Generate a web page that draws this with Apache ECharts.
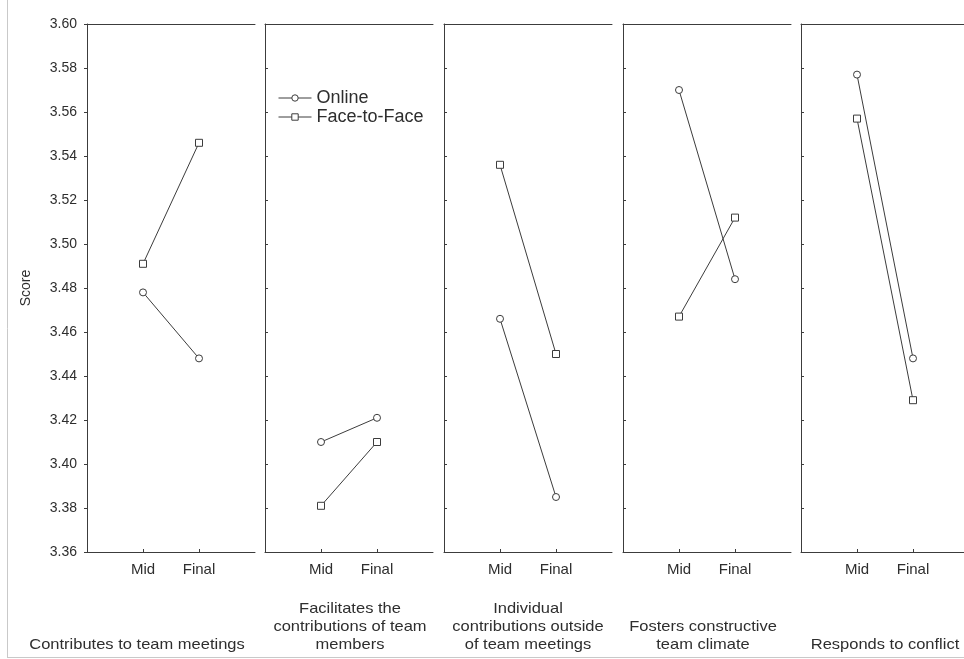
<!DOCTYPE html>
<html>
<head>
<meta charset="utf-8">
<script src="https://cdn.jsdelivr.net/npm/echarts@6/dist/echarts.min.js"></script>
<style>
  html, body { margin: 0; padding: 0; background: #fff; overflow: hidden; }
  /* drawing surface runs a little past the window so the last panel is cut at the edge */
  #chart { width: 975px; height: 659px; }
</style>
</head>
<body>
<div id="chart"></div>
<script>
// Item titles, one per panel
const itemTitles = [
  'Contributes to team meetings',
  'Facilitates the\ncontributions of team\nmembers',
  'Individual\ncontributions outside\nof team meetings',
  'Fosters constructive\nteam climate',
  'Responds to conflict'
];
const periods = ['Mid', 'Final'];
// Mean scores per item: [Mid, Final]
const onlineScores = [
  [3.478, 3.448],
  [3.410, 3.421],
  [3.466, 3.385],
  [3.570, 3.484],
  [3.577, 3.448]
];
const faceScores = [
  [3.491, 3.546],
  [3.381, 3.410],
  [3.536, 3.450],
  [3.467, 3.512],
  [3.557, 3.429]
];
const scoreMin = 3.36;
const scoreMax = 3.60;
const scoreStep = 0.02;

// Panel layout
const panelLeft = [87, 265, 444, 623, 801];
const panelWidth = 168;
const panelTop = 24;
const panelBottom = 107;
const titleCenter = [137, 350, 528, 703, 885];

const ink = '#3c3c3c';
const textColor = '#2e2e2e';
const font = 'Liberation Sans, Arial, sans-serif';

// category slots: padding on both sides so Mid/Final sit at 1/3 and 2/3
const slots = [''].concat(periods, ['']);

const grids = [], xAxes = [], yAxes = [], series = [], graphics = [];

panelLeft.forEach((left, i) => {
  grids.push({ left: left, width: panelWidth, top: panelTop, bottom: panelBottom, containLabel: false });
  // bottom axis with Mid / Final
  xAxes.push({
    type: 'category', gridIndex: i, data: slots, boundaryGap: false,
    axisLine: { lineStyle: { color: ink, width: 1 } },
    axisTick: { show: true, inside: true, length: 3, interval: (idx) => idx === 1 || idx === 2, lineStyle: { color: ink } },
    axisLabel: { interval: 0, color: textColor, fontFamily: font, fontSize: 15, margin: 10 },
    splitLine: { show: false }
  });
  yAxes.push({
    type: 'value', gridIndex: i, min: scoreMin, max: scoreMax, interval: scoreStep,
    axisLine: { show: true, lineStyle: { color: ink, width: 1 } },
    axisTick: { show: true, length: 3, inside: i > 0, lineStyle: { color: ink } },
    axisLabel: {
      show: i === 0, color: textColor, fontFamily: font, fontSize: 14, margin: 10,
      formatter: (v) => v.toFixed(2)
    },
    splitLine: { show: false },
    name: i === 0 ? 'Score' : '',
    nameLocation: 'middle', nameGap: 54, nameRotate: 90,
    nameTextStyle: { color: textColor, fontFamily: font, fontSize: 14 }
  });
});

// top edge of each panel
panelLeft.forEach((left, i) => {
  xAxes.push({
    type: 'category', gridIndex: i, data: slots, boundaryGap: false, position: 'top',
    axisLine: { lineStyle: { color: ink, width: 1 } },
    axisTick: { show: false }, axisLabel: { show: false }, splitLine: { show: false }
  });
});

function makeSeries(name, symbol, values, i) {
  return {
    name: name, type: 'line', xAxisIndex: i, yAxisIndex: i,
    data: [null, values[0], values[1], null],
    symbol: symbol, symbolSize: 7, showSymbol: true,
    lineStyle: { color: ink, width: 1 },
    itemStyle: { color: '#fff', borderColor: ink, borderWidth: 1 },
    emphasis: { disabled: true },
    animation: false
  };
}

onlineScores.forEach((v, i) => series.push(makeSeries('Online', 'circle', v, i)));
faceScores.forEach((v, i) => series.push(makeSeries('Face-to-Face', 'rect', v, i)));

// item titles below the panels, bottom-aligned and centred
itemTitles.forEach((t, i) => {
  graphics.push({
    type: 'text', x: titleCenter[i], y: 654, scaleX: 1.1,
    style: { text: t, fill: textColor, font: '15px ' + font, textAlign: 'center', textVerticalAlign: 'bottom', lineHeight: 18 }
  });
});
// outer frame edges
graphics.push({ type: 'line', shape: { x1: 7.5, y1: 0, x2: 7.5, y2: 657 }, style: { stroke: '#c9c9c9', lineWidth: 1 } });
graphics.push({ type: 'line', shape: { x1: 7, y1: 657.5, x2: 975, y2: 657.5 }, style: { stroke: '#c9c9c9', lineWidth: 1 } });

const chart = echarts.init(document.getElementById('chart'), null, { renderer: 'canvas' });
chart.setOption({
  backgroundColor: '#fff',
  animation: false,
  grid: grids,
  xAxis: xAxes,
  yAxis: yAxes,
  series: series,
  legend: {
    data: ['Online', 'Face-to-Face'],
    orient: 'vertical', left: 273, top: 84,
    itemWidth: 33, itemHeight: 8, itemGap: 1,
    lineStyle: { width: 1, color: ink },
    itemStyle: { color: '#fff', borderColor: ink, borderWidth: 1 },
    textStyle: { color: textColor, fontFamily: font, fontSize: 18 },
    selectedMode: false
  },
  graphic: graphics
});
</script>
</body>
</html>
